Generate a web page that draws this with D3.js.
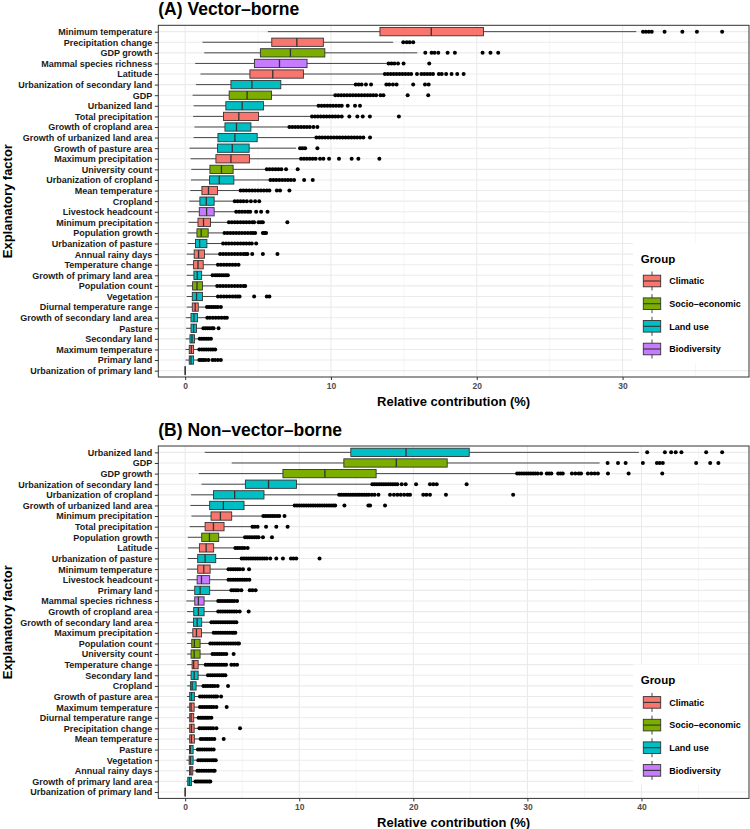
<!DOCTYPE html>
<html>
<head>
<meta charset="utf-8">
<script src="https://cdn.jsdelivr.net/npm/d3@7"></script>
<style>
  body { margin: 0; background: #fff; }
  text { font-family: "Liberation Sans", Arial, sans-serif; }
</style>
</head>
<body>
<svg id="chart"></svg>
<script>
(() => {

  // ---- (A) Vector-borne ----
  const factorsA = ['Minimum temperature', 'Precipitation change', 'GDP growth', 'Mammal species richness', 'Latitude',
    'Urbanization of secondary land', 'GDP', 'Urbanized land', 'Total precipitation', 'Growth of cropland area',
    'Growth of urbanized land area', 'Growth of pasture area', 'Maximum precipitation', 'University count',
    'Urbanization of cropland', 'Mean temperature', 'Cropland', 'Livestock headcount', 'Minimum precipitation',
    'Population growth', 'Urbanization of pasture', 'Annual rainy days', 'Temperature change',
    'Growth of primary land area', 'Population count', 'Vegetation', 'Diurnal temperature range',
    'Growth of secondary land area', 'Pasture', 'Secondary land', 'Maximum temperature', 'Primary land',
    'Urbanization of primary land'];
  const groupsA = ['Climatic', 'Climatic', 'Socio–economic', 'Biodiversity', 'Climatic',
    'Land use', 'Socio–economic', 'Land use', 'Climatic', 'Land use',
    'Land use', 'Land use', 'Climatic', 'Socio–economic',
    'Land use', 'Climatic', 'Land use', 'Biodiversity', 'Climatic',
    'Socio–economic', 'Land use', 'Climatic', 'Climatic',
    'Land use', 'Socio–economic', 'Land use', 'Climatic',
    'Land use', 'Land use', 'Land use', 'Climatic', 'Land use',
    'Land use'];
  const lowA = [5.67, 1.19, 1.31, 0.69, 1.05, 0.74, 0.51, 0.58, 0.55, 0.64, 0.58, 0.30, 0.37, 0.42, 0.40, 0.35, 0.28,
    0.17, 0.23, 0.17, 0.17, 0.11, 0.11, 0.11, 0.11, 0.11, 0.11, 0.05, 0.07, 0.03, 0.03, 0.03, 0];
  const q1A = [13.36, 5.94, 5.16, 4.75, 4.44, 3.14, 3.02, 2.79, 2.63, 2.73, 2.25, 2.22, 2.11, 1.70, 1.67, 1.15, 1.01,
    0.97, 0.88, 0.81, 0.71, 0.62, 0.58, 0.60, 0.51, 0.49, 0.49, 0.40, 0.40, 0.33, 0.28, 0.28, 0];
  const medA = [16.88, 7.66, 7.22, 6.47, 6.01, 4.58, 4.25, 3.91, 3.68, 3.52, 3.41, 3.23, 3.14, 2.49, 2.34, 1.60, 1.45,
    1.47, 1.26, 1.10, 0.99, 0.92, 0.88, 0.83, 0.81, 0.78, 0.69, 0.60, 0.58, 0.47, 0.42, 0.40, 0];
  const q3A = [20.46, 9.48, 9.58, 8.36, 8.11, 6.56, 5.92, 5.37, 5.03, 4.51, 4.94, 4.39, 4.41, 3.29, 3.34, 2.22, 1.99,
    1.99, 1.74, 1.58, 1.49, 1.33, 1.24, 1.13, 1.19, 1.19, 0.90, 0.85, 0.78, 0.64, 0.58, 0.58, 0.01];
  const highA = [30.94, 14.27, 15.92, 13.82, 13.64, 11.6, 10.2, 9.1, 8.6, 7.05, 8.9, 7.61, 7.9, 5.55, 5.78, 3.75, 3.38,
    3.5, 2.97, 2.68, 2.59, 2.36, 2.22, 1.86, 2.18, 2.22, 1.49, 1.51, 1.22, 0.97, 0.95, 0.95, 0.01];
  const outliersA = [
    [31.4, 31.6, 31.8, 32.0, 32.88, 34.1, 35.1, 36.83],
    [14.96, 15.2, 15.4, 15.64],
    [16.47, 16.9, 17.1, 17.36, 18.0, 18.5, 20.4, 20.94, 21.47],
    [13.95, 14.15, 14.35, 14.6, 14.98, 16.74],
    [13.7, 13.9, 14.1, 14.3, 14.5, 14.7, 14.9, 15.1, 15.3, 15.5, 15.9, 16.2, 16.4, 16.6, 16.8, 17.0, 17.4, 17.6, 17.9, 18.27, 18.66, 19.1],
    [11.7, 11.9, 12.1, 12.4, 12.75, 13.8, 14.0, 14.25, 14.5, 15.64, 16.45, 16.7],
    [10.3, 10.5, 10.7, 10.9, 11.1, 11.3, 11.5, 11.7, 11.9, 12.1, 12.3, 12.5, 12.7, 12.9, 13.1, 13.4, 13.6, 15.26, 16.67],
    [9.15, 9.35, 9.55, 9.75, 9.95, 10.15, 10.35, 10.55, 10.74, 11.15, 11.65, 11.99],
    [8.7, 8.9, 9.1, 9.3, 9.5, 9.7, 9.9, 10.1, 10.3, 10.5, 10.74, 11.26, 11.81, 12.18, 12.67, 14.66],
    [7.15, 7.35, 7.55, 7.75, 7.95, 8.15, 8.35, 8.55, 8.8, 9.07],
    [9.0, 9.2, 9.4, 9.6, 9.8, 10.0, 10.2, 10.4, 10.6, 10.8, 11.0, 11.2, 11.4, 11.6, 11.8, 12.0, 12.22, 12.68],
    [7.88, 8.05, 8.23, 9.07],
    [7.95, 8.15, 8.35, 8.55, 8.75, 8.95, 9.25, 9.48, 9.87, 10.55, 11.42, 11.88, 13.32],
    [5.6, 5.8, 6.0, 6.2, 6.4, 6.6, 6.92, 7.72],
    [5.85, 6.05, 6.25, 6.45, 6.65, 6.85, 7.05, 7.25, 7.47, 8.16, 8.75],
    [3.8, 4.0, 4.2, 4.4, 4.6, 4.8, 5.0, 5.2, 5.4, 5.6, 5.78, 6.29, 6.51, 7.15],
    [3.4, 3.6, 3.8, 4.0, 4.23, 4.51, 4.8, 5.08],
    [3.5, 3.7, 3.9, 4.1, 4.3, 4.46, 4.87, 5.21, 5.65],
    [3.0, 3.2, 3.4, 3.6, 3.8, 4.0, 4.2, 4.4, 4.6, 4.73, 5.03, 5.2, 5.33, 7.01],
    [2.7, 2.9, 3.1, 3.3, 3.5, 3.7, 3.9, 4.1, 4.3, 4.5, 4.65, 4.8, 5.33, 5.45, 5.55],
    [2.6, 2.8, 3.0, 3.2, 3.4, 3.6, 3.8, 4.0, 4.2, 4.4, 4.57, 4.87],
    [2.4, 2.6, 2.8, 3.0, 3.2, 3.4, 3.6, 3.8, 4.0, 4.15, 4.27, 4.6, 5.33, 6.33],
    [2.25, 2.45, 2.65, 2.85, 3.05, 3.25, 3.45, 3.66],
    [1.88, 2.05, 2.2, 2.35, 2.5, 2.65, 2.8, 2.93],
    [2.2, 2.4, 2.6, 2.8, 3.0, 3.2, 3.4, 3.6, 3.8, 4.0, 4.12],
    [2.25, 2.45, 2.65, 2.85, 3.05, 3.25, 3.45, 3.6, 3.73, 4.73, 5.6, 5.78],
    [1.5, 1.65, 1.8, 1.95, 2.1, 2.25, 2.45],
    [1.52, 1.7, 1.9, 2.1, 2.3, 2.5, 2.7, 2.86],
    [1.25, 1.4, 1.55, 1.7, 1.85, 1.95, 2.29],
    [1.0, 1.15, 1.3, 1.45, 1.6, 1.77],
    [0.97, 1.15, 1.3, 1.45, 1.6, 1.75, 1.9, 2.06],
    [0.97, 1.1, 1.25, 1.4, 1.6, 1.88, 2.05, 2.25, 2.45],
    []
  ];

  // ---- (B) Non-vector-borne ----
  const factorsB = ['Urbanized land', 'GDP', 'GDP growth', 'Urbanization of secondary land', 'Urbanization of cropland',
    'Growth of urbanized land area', 'Minimum precipitation', 'Total precipitation', 'Population growth', 'Latitude',
    'Urbanization of pasture', 'Minimum temperature', 'Livestock headcount', 'Primary land', 'Mammal species richness',
    'Growth of cropland area', 'Growth of secondary land area', 'Maximum precipitation', 'Population count',
    'University count', 'Temperature change', 'Secondary land', 'Cropland', 'Growth of pasture area',
    'Maximum temperature', 'Diurnal temperature range', 'Precipitation change', 'Mean temperature', 'Pasture',
    'Vegetation', 'Annual rainy days', 'Growth of primary land area', 'Urbanization of primary land'];
  const lowB = [1.72, 4.08, 1.19, 1.43, 0.52, 0.46, 0.55, 0.40, 0.23, 0.26, 0.23, 0.17, 0.17, 0.17, 0.11, 0.17, 0.17,
    0.17, 0.17, 0.17, 0.17, 0.17, 0.17, 0.17, 0.17, 0.17, 0.17, 0.17, 0.11, 0.11, 0.11, 0.11, 0];
  const q1B = [14.52, 13.91, 8.57, 5.28, 2.48, 2.15, 2.27, 1.75, 1.45, 1.25, 1.10, 1.10, 1.05, 0.84, 0.84, 0.75, 0.73,
    0.67, 0.58, 0.52, 0.61, 0.52, 0.46, 0.40, 0.40, 0.40, 0.40, 0.40, 0.38, 0.35, 0.38, 0.23, 0];
  const medB = [19.36, 18.51, 12.25, 7.31, 4.34, 3.35, 3.09, 2.48, 2.13, 1.84, 1.75, 1.63, 1.43, 1.31, 1.16, 1.16, 1.05,
    0.99, 0.81, 0.79, 0.75, 0.79, 0.61, 0.55, 0.52, 0.52, 0.55, 0.55, 0.46, 0.46, 0.50, 0.38, 0];
  const q3B = [24.9, 22.97, 16.74, 9.76, 6.91, 5.16, 4.08, 3.41, 2.94, 2.50, 2.68, 2.19, 2.15, 2.15, 1.66, 1.66, 1.45,
    1.43, 1.31, 1.31, 1.14, 1.14, 0.96, 0.81, 0.79, 0.75, 0.79, 0.81, 0.70, 0.70, 0.67, 0.55, 0.01];
  const highB = [39.77, 36.33, 29.0, 16.2, 13.4, 9.5, 6.79, 5.86, 5.21, 4.34, 4.9, 3.76, 3.76, 4.02, 2.85, 2.85, 2.27,
    2.45, 2.15, 2.39, 1.75, 1.98, 1.57, 1.28, 1.28, 1.16, 1.22, 1.34, 1.10, 1.13, 1.05, 0.87, 0.01];
  const outliersB = [
    [40.5, 42.05, 42.6, 43.0, 43.5, 45.67, 47.07],
    [37.03, 37.94, 38.61, 40.12, 41.35, 41.6, 41.87, 44.79, 46.02, 46.74],
    [29.1, 29.3, 29.5, 29.7, 29.9, 30.1, 30.3, 30.5, 30.7, 30.9, 31.2, 31.7, 31.9, 32.1, 32.7, 32.9, 33.1, 33.9, 34.2, 34.5, 34.7, 35.3, 35.6, 35.9, 36.18, 37.06, 38.87, 41.82],
    [16.4, 16.6, 16.8, 17.0, 17.2, 17.4, 17.6, 17.8, 18.0, 18.2, 18.4, 18.6, 18.98, 19.33, 20.24, 21.46, 21.75, 22.05, 24.67],
    [13.5, 13.7, 13.9, 14.1, 14.3, 14.5, 14.7, 14.9, 15.1, 15.3, 15.5, 15.7, 15.9, 16.1, 16.36, 16.6, 16.94, 17.96, 18.3, 18.6, 18.9, 19.2, 19.5, 19.71, 20.87, 21.15, 21.46, 22.86, 28.75],
    [9.6, 9.8, 10.0, 10.2, 10.4, 10.6, 10.8, 11.0, 11.2, 11.4, 11.6, 11.8, 12.0, 12.2, 12.4, 12.6, 12.8, 13.0, 13.15, 13.96, 16.06, 16.21, 17.52],
    [6.85, 7.05, 7.25, 7.45, 7.65, 7.85, 8.05, 8.25, 8.71],
    [5.9, 6.1, 6.35, 7.09, 7.99, 8.98],
    [5.25, 5.45, 5.65, 5.85, 6.05, 6.25, 6.44, 6.82, 7.61],
    [4.4, 4.6, 4.8, 5.0, 5.2, 5.48],
    [4.95, 5.15, 5.35, 5.55, 5.75, 5.95, 6.15, 6.35, 6.55, 6.75, 6.95, 7.15, 7.46, 7.99, 8.57, 9.27, 9.5, 9.74, 11.78],
    [3.8, 4.0, 4.2, 4.4, 4.6, 4.8, 5.07, 5.6],
    [3.8, 4.0, 4.2, 4.4, 4.6, 4.8, 5.0, 5.2, 5.4, 5.63],
    [4.05, 4.25, 4.45, 4.65, 4.93, 5.66, 5.9, 6.18],
    [2.9, 3.1, 3.3, 3.5, 3.7, 3.9, 4.1, 4.3, 4.55],
    [2.9, 3.1, 3.3, 3.5, 3.7, 3.9, 4.1, 4.3, 4.5, 4.78, 5.57],
    [2.3, 2.5, 2.7, 2.9, 3.1, 3.3, 3.5, 3.7, 3.9, 4.1, 4.3, 4.49],
    [2.5, 2.7, 2.9, 3.1, 3.3, 3.5, 3.7, 3.9, 4.1, 4.25, 4.4],
    [2.2, 2.4, 2.6, 2.8, 3.0, 3.2, 3.4, 3.6, 3.8, 4.0, 4.2, 4.4, 4.6, 4.72],
    [2.4, 2.6, 2.8, 3.0, 3.2, 3.4, 3.61, 4.25],
    [1.8, 2.0, 2.2, 2.4, 2.6, 2.8, 3.0, 3.2, 3.4, 3.59, 4.05, 4.3, 4.55],
    [2.0, 2.2, 2.4, 2.6, 2.8, 3.0, 3.2, 3.35, 3.53],
    [1.6, 1.8, 2.0, 2.2, 2.4, 2.6, 2.85, 3.76],
    [1.3, 1.5, 1.7, 1.9, 2.1, 2.3, 2.5, 2.65, 2.8, 3.15],
    [1.3, 1.5, 1.7, 1.9, 2.1, 2.3, 2.5, 2.74, 3.64],
    [1.18, 1.35, 1.5, 1.65, 1.8, 1.95, 2.1, 2.3],
    [1.25, 1.45, 1.65, 1.85, 2.05, 2.25, 2.45, 2.74, 4.81],
    [1.36, 1.55, 1.75, 1.95, 2.15, 2.35, 2.56, 3.38],
    [1.12, 1.3, 1.5, 1.7, 1.9, 2.1, 2.3, 2.5],
    [1.15, 1.35, 1.55, 1.75, 1.95, 2.15, 2.35, 2.5, 2.68],
    [1.07, 1.25, 1.45, 1.65, 1.85, 2.05, 2.25, 2.45, 2.59],
    [0.9, 1.05, 1.2, 1.35, 1.5, 1.65, 1.8, 1.95, 2.1, 2.21],
    []
  ];

  const groupNames = ['Climatic', 'Socio–economic', 'Land use', 'Biodiversity'];
  const groupColors = ['#F8766D', '#7CAE00', '#00BFC4', '#C77CFF'];

  const svgWidth = 750;
  const svgHeight = 829;
  const panelLeft = 158.3;
  const panelRight = 749;

  const color = d3.scaleOrdinal().domain(groupNames).range(groupColors);
  const groupOf = new Map(factorsA.map((f, i) => [f, groupsA[i]]));

  const svg = d3.select('#chart')
    .attr('width', svgWidth)
    .attr('height', svgHeight);

  function drawPanel(p) {
    const rows = p.factors.map((f, i) => ({
      name: f, group: groupOf.get(f),
      low: p.low[i], q1: p.q1[i], med: p.med[i], q3: p.q3[i], high: p.high[i],
      out: p.outliers[i]
    }));

    const maxV = d3.max(rows, r => d3.max([r.high, ...r.out]));
    const minV = d3.min(rows, r => r.low);
    const pad = (maxV - minV) * 0.05;

    const x = d3.scaleLinear()
      .domain([minV - pad, maxV + pad])
      .range([panelLeft, panelRight]);

    const y = d3.scalePoint()
      .domain(p.factors)
      .range([p.top, p.bottom])
      .padding(0.6);

    const boxH = y.step() * 0.78;
    const g = svg.append('g');

    // panel background + grid
    g.append('rect')
      .attr('x', panelLeft).attr('y', p.top)
      .attr('width', panelRight - panelLeft).attr('height', p.bottom - p.top)
      .attr('fill', '#fff');

    const allTicks = x.ticks(10);
    const major = allTicks.filter(t => t % 10 === 0);
    const minor = allTicks.filter(t => t % 10 !== 0);

    g.selectAll('.minor')
      .data(minor)
      .enter()
      .append('line')
      .attr('x1', d => x(d)).attr('x2', d => x(d))
      .attr('y1', p.top).attr('y2', p.bottom)
      .attr('stroke', '#F2F2F2').attr('stroke-width', 0.7);

    g.selectAll('.major')
      .data(major)
      .enter()
      .append('line')
      .attr('x1', d => x(d)).attr('x2', d => x(d))
      .attr('y1', p.top).attr('y2', p.bottom)
      .attr('stroke', '#EBEBEB').attr('stroke-width', 1.1);

    g.selectAll('.hgrid')
      .data(p.factors)
      .enter()
      .append('line')
      .attr('x1', panelLeft).attr('x2', panelRight)
      .attr('y1', d => y(d)).attr('y2', d => y(d))
      .attr('stroke', '#EBEBEB').attr('stroke-width', 1.1);

    // whiskers
    const rowG = g.selectAll('.row')
      .data(rows)
      .enter()
      .append('g');

    rowG.append('line')
      .attr('x1', r => x(r.low)).attr('x2', r => x(r.q1))
      .attr('y1', r => y(r.name)).attr('y2', r => y(r.name))
      .attr('stroke', '#333').attr('stroke-width', 0.9);

    rowG.append('line')
      .attr('x1', r => x(r.q3)).attr('x2', r => x(r.high))
      .attr('y1', r => y(r.name)).attr('y2', r => y(r.name))
      .attr('stroke', '#333').attr('stroke-width', 0.9);

    rowG.append('rect')
      .attr('x', r => x(r.q1))
      .attr('y', r => y(r.name) - boxH / 2)
      .attr('width', r => Math.max(0, x(r.q3) - x(r.q1)))
      .attr('height', boxH)
      .attr('fill', r => color(r.group))
      .attr('stroke', '#333').attr('stroke-width', 0.9);

    rowG.append('line')
      .attr('x1', r => x(r.med)).attr('x2', r => x(r.med))
      .attr('y1', r => y(r.name) - boxH / 2).attr('y2', r => y(r.name) + boxH / 2)
      .attr('stroke', '#333').attr('stroke-width', 1.3);

    rowG.selectAll('circle')
      .data(r => r.out.map(v => ({ v, name: r.name })))
      .enter()
      .append('circle')
      .attr('cx', d => x(d.v))
      .attr('cy', d => y(d.name))
      .attr('r', 2)
      .attr('fill', '#000');

    // legend
    const lgX = 633;
    const titleY = p.bottom - 118.3;
    const keyY = [-96, -73.3, -50.7, -28].map(o => p.bottom + o);
    const lg = g.append('g');
    lg.append('rect')
      .attr('x', lgX).attr('y', titleY - 15.7)
      .attr('width', panelRight - lgX - 0.5)
      .attr('height', keyY[3] + 14 - (titleY - 15.7))
      .attr('fill', '#fff');
    lg.append('text')
      .attr('x', 640.7).attr('y', titleY + 4)
      .attr('font-size', 11.5).attr('font-weight', 'bold')
      .attr('fill', '#000')
      .text('Group');
    const key = lg.selectAll('.key')
      .data(groupNames)
      .enter()
      .append('g')
      .attr('transform', (d, i) => `translate(643.3, ${keyY[i]})`);
    key.append('line')
      .attr('x1', 8.7).attr('x2', 8.7).attr('y1', -9.5).attr('y2', 9.5)
      .attr('stroke', '#333').attr('stroke-width', 0.9);
    key.append('rect')
      .attr('x', 0).attr('y', -5.8).attr('width', 17.4).attr('height', 11.6)
      .attr('fill', d => color(d))
      .attr('stroke', '#333').attr('stroke-width', 0.9);
    key.append('line')
      .attr('x1', 0).attr('x2', 17.4).attr('y1', 0).attr('y2', 0)
      .attr('stroke', '#333').attr('stroke-width', 1.1);
    key.append('text')
      .attr('x', 26).attr('y', 3.3)
      .attr('font-size', 9).attr('font-weight', 'bold')
      .attr('fill', '#000')
      .text(d => d);

    // panel border
    g.append('rect')
      .attr('x', panelLeft).attr('y', p.top)
      .attr('width', panelRight - panelLeft).attr('height', p.bottom - p.top)
      .attr('fill', 'none')
      .attr('stroke', '#333').attr('stroke-width', 1);

    // axes
    const xAxis = g.append('g')
      .attr('transform', `translate(0, ${p.bottom})`)
      .call(d3.axisBottom(x).tickValues(major).tickSize(3).tickPadding(2.5));
    xAxis.select('.domain').remove();
    xAxis.selectAll('line').attr('stroke', '#333');
    xAxis.selectAll('text')
      .attr('font-family', '"Liberation Sans", Arial, sans-serif')
      .attr('font-size', 8.5).attr('font-weight', 'bold').attr('fill', '#4D4D4D');

    const yAxis = g.append('g')
      .attr('transform', `translate(${panelLeft}, 0)`)
      .call(d3.axisLeft(y).tickSize(3.5).tickPadding(2.5));
    yAxis.select('.domain').remove();
    yAxis.selectAll('line').attr('stroke', '#333');
    yAxis.selectAll('text')
      .attr('font-family', '"Liberation Sans", Arial, sans-serif')
      .attr('font-size', 9).attr('font-weight', 'bold').attr('fill', '#1A1A1A');

    // titles
    g.append('text')
      .attr('x', panelLeft).attr('y', p.top - 10.5)
      .attr('font-size', 17.5).attr('font-weight', 'bold')
      .attr('fill', '#000')
      .text(p.title);

    g.append('text')
      .attr('x', (panelLeft + panelRight) / 2).attr('y', p.bottom + 28.5)
      .attr('text-anchor', 'middle')
      .attr('font-size', 13).attr('font-weight', 'bold')
      .attr('fill', '#000')
      .text('Relative contribution (%)');

    g.append('text')
      .attr('transform', `translate(12, ${(p.top + p.bottom) / 2}) rotate(-90)`)
      .attr('text-anchor', 'middle')
      .attr('font-size', 13).attr('font-weight', 'bold')
      .attr('fill', '#000')
      .text('Explanatory factor');
  }

  drawPanel({
    title: '(A) Vector–borne', factors: factorsA,
    low: lowA, q1: q1A, med: medA, q3: q3A, high: highA, outliers: outliersA,
    top: 25.3, bottom: 377
  });

  drawPanel({
    title: '(B) Non–vector–borne', factors: factorsB,
    low: lowB, q1: q1B, med: medB, q3: q3B, high: highB, outliers: outliersB,
    top: 446, bottom: 798.4
  });

})();
</script>
</body>
</html>
